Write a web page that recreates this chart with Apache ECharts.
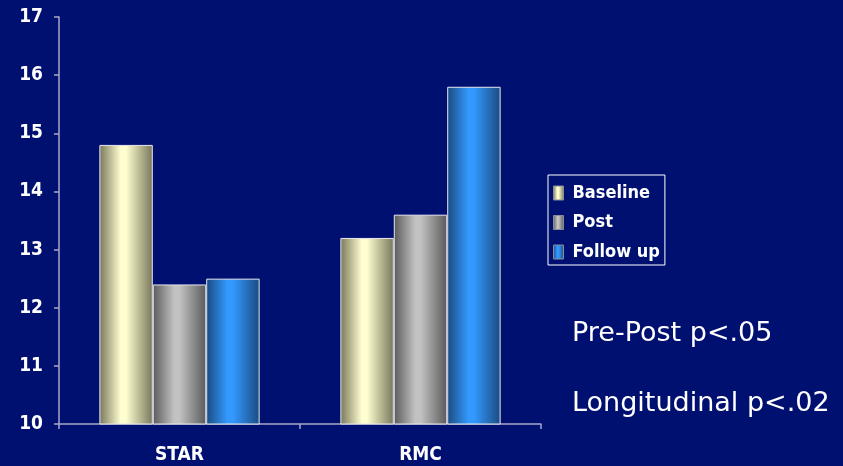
<!DOCTYPE html>
<html>
<head>
<meta charset="utf-8">
<script src="https://cdn.jsdelivr.net/npm/echarts@6/dist/echarts.min.js"></script>
<style>html,body{margin:0;padding:0;background:#001070;}#c{width:843px;height:466px;}</style>
</head>
<body>
<div id="c"></div>
<script>
var categories = ['STAR', 'RMC'];
var seriesNames = ['Baseline', 'Post', 'Follow up'];
var baseline = [14.8, 13.2];
var post = [12.4, 13.6];
var followUp = [12.5, 15.8];
var yTicks = [10, 11, 12, 13, 14, 15, 16, 17];
var notes = ['Pre-Post p<.05', 'Longitudinal p<.02'];

var FONT = '"DejaVu Sans Condensed", "DejaVu Sans", sans-serif';

function grad(edge, center) {
  return new echarts.graphic.LinearGradient(0, 0, 1, 0, [
    {offset: 0, color: edge},
    {offset: 0.4, color: center},
    {offset: 0.5, color: center},
    {offset: 1, color: edge}
  ]);
}
var colors = [grad('#77765a', '#fffed0'), grad('#5a5a5a', '#c2c2c2'), grad('#1a4a80', '#3399ff')];
var data = [baseline, post, followUp];

var chart = echarts.init(document.getElementById('c'));
chart.setOption({
  backgroundColor: '#001070',
  animation: false,
  grid: {left: 59, right: 302, top: 17, bottom: 42},
  legend: {
    orient: 'vertical', left: 548, top: 175,
    icon: 'rect',
    itemWidth: 10, itemHeight: 14, itemGap: 11.5,
    itemStyle: {borderWidth: 1, borderColor: '#8a8a9a'},
    borderColor: '#ffffff', borderWidth: 1, borderRadius: 0,
    padding: [9, 5, 4, 5],
    textStyle: {color: '#ffffff', fontFamily: FONT, fontWeight: 'bold', fontSize: 18, padding: [0, 0, 0, 4]},
    data: seriesNames
  },
  xAxis: {
    type: 'category', data: categories,
    axisLine: {lineStyle: {color: '#a8a8c8', width: 1.5}},
    axisTick: {show: true, length: 5, lineStyle: {color: '#a8a8c8', width: 1.5}},
    axisLabel: {color: '#ffffff', fontFamily: FONT, fontWeight: 'bold', fontSize: 19, margin: 22}
  },
  yAxis: {
    type: 'value', min: yTicks[0], max: yTicks[yTicks.length - 1], interval: 1,
    splitLine: {show: false},
    axisLine: {show: true, lineStyle: {color: '#a8a8c8', width: 1.5}},
    axisTick: {show: true, length: 5, lineStyle: {color: '#a8a8c8', width: 1.5}},
    axisLabel: {color: '#ffffff', fontFamily: FONT, fontWeight: 'bold', fontSize: 19, margin: 16}
  },
  series: seriesNames.map(function (n, i) {
    return {
      name: n, type: 'bar', data: data[i],
      barGap: '0%', barCategoryGap: '33.5%',
      itemStyle: {color: colors[i], borderColor: '#e8e8f0', borderWidth: 1}
    };
  }),
  graphic: [
    {type: 'text', x: 572, y: 333.5, style: {text: notes[0], fill: '#ffffff', font: '27px "DejaVu Sans"', verticalAlign: 'middle'}},
    {type: 'text', x: 572, y: 403.5, style: {text: notes[1], fill: '#ffffff', font: '27px "DejaVu Sans"', verticalAlign: 'middle'}}
  ]
});
</script>
</body>
</html>
